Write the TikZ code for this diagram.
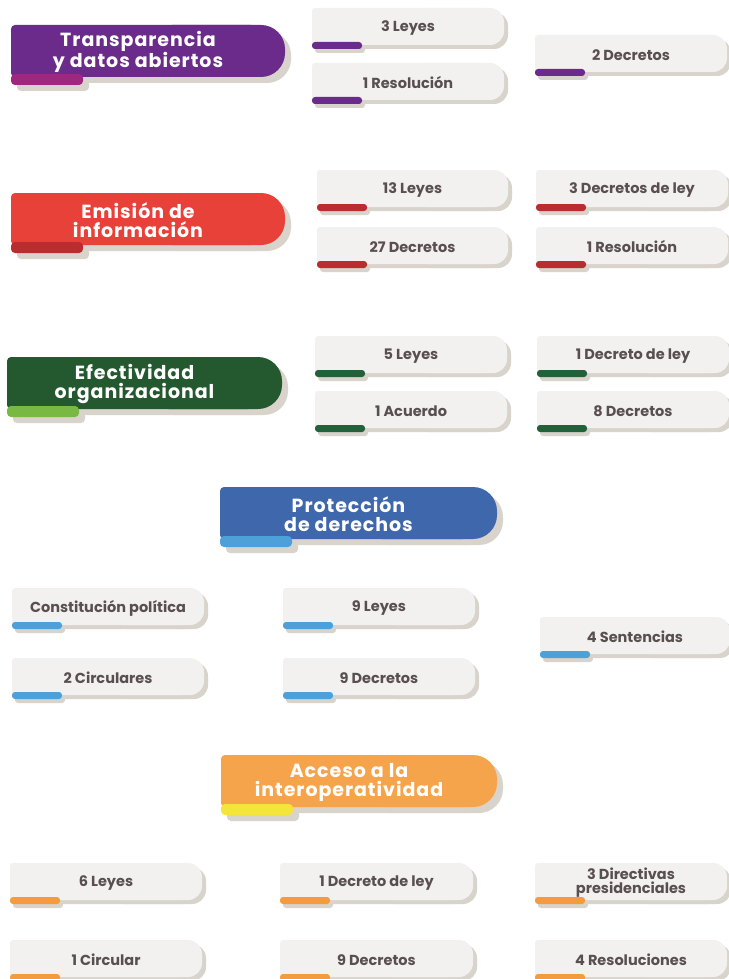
\documentclass[tikz,border=0pt]{standalone}
\usepackage{fontspec}
\setmainfont{Poppins}
\newfontfamily\fuentetitulo{Poppins}[LetterSpace=5]
\definecolor{mtexto}{HTML}{594F52}
\definecolor{mfondo}{HTML}{F2F1EF}
\definecolor{msombra}{HTML}{D8D3CB}
\definecolor{mmorado}{HTML}{6B2B8A}
\definecolor{mmagenta}{HTML}{A1267E}
\definecolor{mrojo}{HTML}{E8413A}
\definecolor{mrojoosc}{HTML}{B92C30}
\definecolor{mverde}{HTML}{24592F}
\definecolor{mverdecl}{HTML}{7AB844}
\definecolor{mverdebar}{HTML}{22613A}
\definecolor{mazul}{HTML}{3F68AC}
\definecolor{mceleste}{HTML}{4EA0D8}
\definecolor{mnaranja}{HTML}{F6A44B}
\definecolor{mamarillo}{HTML}{F5E43C}
\definecolor{mnaranjabar}{HTML}{F39C3F}
\tikzset{
  etiqueta/.style={font=\bfseries\fontsize{14.5}{14}\selectfont,text=mtexto,
    align=center,inner sep=0pt},
  titular/.style={font=\fuentetitulo\bfseries\fontsize{19}{19}\selectfont,
    text=white,align=center,inner sep=0pt},
}
% tarjeta: nombre, x, y, ancho, color de barra, texto
\newcommand{\tarjeta}[6]{%
  \fill[msombra] (#2+4,#3+4) [rounded corners=3] rectangle ++(#4-20,37);
  \fill[msombra] (#2+4+#4/2,#3+4) [rounded corners=14] rectangle ++(#4/2,37);
  \fill[mfondo] (#2,#3) [rounded corners=3] rectangle ++(#4-20,37);
  \fill[mfondo] (#2+#4/2,#3) [rounded corners=14] rectangle ++(#4/2,37);
  \fill[msombra] (#2+3,#3+38) [rounded corners=3] rectangle ++(50,7);
  \fill[#5] (#2,#3+34) [rounded corners=3] rectangle ++(50,7);
  \node[etiqueta] (#1) at (#2+#4/2,#3+20) {#6};
}
% titulo: nombre, x, y, ancho, color, color de pestana, texto
\newcommand{\titulo}[7]{%
  \fill[msombra] (#2+6,#3+6) [rounded corners=4] rectangle ++(#4-30,52);
  \fill[msombra] (#2+6+#4/2,#3+6) [rounded corners=24] rectangle ++(#4/2,52);
  \fill[msombra] (#2+6,#3+55) [rounded corners=4] rectangle ++(72,11);
  \fill[#5] (#2,#3) [rounded corners=4] rectangle ++(#4-30,52);
  \fill[#5] (#2+#4/2,#3) [rounded corners=24] rectangle ++(#4/2,52);
  \fill[#6] (#2,#3+49) [rounded corners=4] rectangle ++(72,11);
  \node[titular] (#1) at (#2+#4/2-10,#3+27) {#7};
}
\begin{document}
\begin{tikzpicture}[x=1pt,y=-1pt]
  \useasboundingbox (0,0) rectangle (728,979);

  % Transparencia
  \titulo{transp}{11}{25}{274}{mmorado}{mmagenta}{Transparencia\\y datos abiertos}
  \tarjeta{transpLeyes}{312}{8}{192}{mmorado}{3 Leyes}
  \tarjeta{transpResol}{312}{63}{192}{mmorado}{1 Resolución}
  \tarjeta{transpDecr}{535}{35}{192}{mmorado}{2 Decretos}

  % Emision
  \titulo{emision}{11}{193}{274}{mrojo}{mrojoosc}{Emisión de\\información}
  \tarjeta{emiLeyes}{317}{170}{191}{mrojoosc}{13 Leyes}
  \tarjeta{emiDecr}{317}{227}{191}{mrojoosc}{27 Decretos}
  \tarjeta{emiDecrLey}{536}{170}{192}{mrojoosc}{3 Decretos de ley}
  \tarjeta{emiResol}{536}{227}{192}{mrojoosc}{1 Resolución}

  % Efectividad
  \titulo{efect}{7}{357}{275}{mverde}{mverdecl}{Efectividad\\organizacional}
  \tarjeta{efeLeyes}{315}{336}{192}{mverdebar}{5 Leyes}
  \tarjeta{efeAcuerdo}{315}{391}{192}{mverdebar}{1 Acuerdo}
  \tarjeta{efeDecrLey}{537}{336}{192}{mverdebar}{1 Decreto de ley}
  \tarjeta{efeDecr}{537}{391}{192}{mverdebar}{8 Decretos}

  % Proteccion
  \titulo{prot}{220}{487}{277}{mazul}{mceleste}{Protección\\de derechos}
  \tarjeta{protConst}{12}{588}{192}{mceleste}{Constitución política}
  \tarjeta{protCirc}{12}{658}{192}{mceleste}{2 Circulares}
  \tarjeta{protLeyes}{283}{588}{192}{mceleste}{9 Leyes}
  \tarjeta{protDecr}{283}{658}{192}{mceleste}{9 Decretos}
  \tarjeta{protSent}{540}{617}{190}{mceleste}{4 Sentencias}

  % Acceso
  \titulo{acceso}{221}{755}{276}{mnaranja}{mamarillo}{Acceso a la\\interoperatividad}
  \tarjeta{accLeyes}{10}{863}{192}{mnaranjabar}{6 Leyes}
  \tarjeta{accCirc}{10}{940}{192}{mnaranjabar}{1 Circular}
  \tarjeta{accDecrLey}{280}{863}{193}{mnaranjabar}{1 Decreto de ley}
  \tarjeta{accDecr}{280}{940}{193}{mnaranjabar}{9 Decretos}
  \tarjeta{accDirect}{535}{863}{192}{mnaranjabar}{3 Directivas\\presidenciales}
  \tarjeta{accResol}{535}{940}{192}{mnaranjabar}{4 Resoluciones}
\end{tikzpicture}
\end{document}
